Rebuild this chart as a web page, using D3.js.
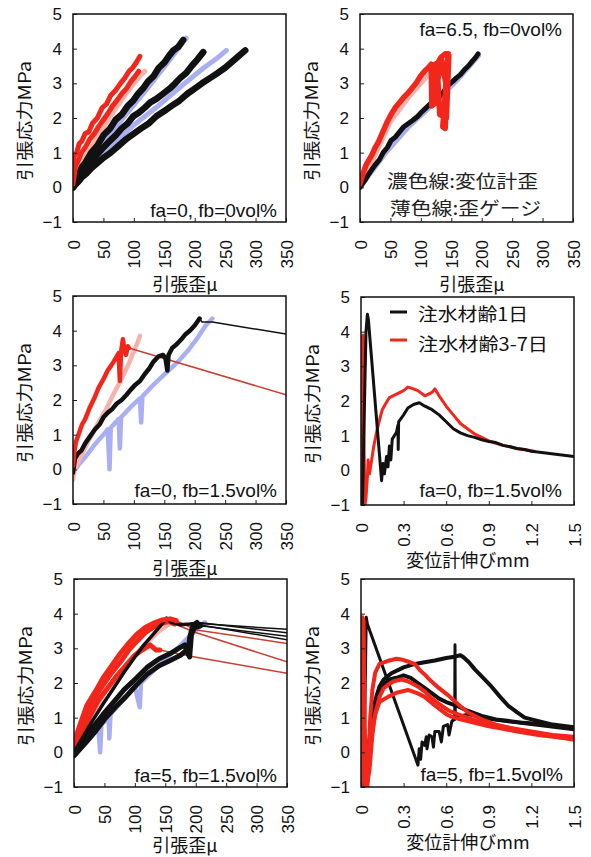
<!DOCTYPE html>
<html>
<head>
<meta charset="utf-8">
<script src="https://cdn.jsdelivr.net/npm/d3@7/dist/d3.min.js"></script>
<style>
  body { margin: 0; background: #fff; }
  svg { display: block; }
</style>
</head>
<body>
<svg id="chart" width="591" height="857"></svg>
<script>
// ---- axis ticks ----
const strainTicks = [0, 50, 100, 150, 200, 250, 300, 350];
const dispTicks = [0, 0.3, 0.6, 0.9, 1.2, 1.5];
const stressTicks = [-1, 0, 1, 2, 3, 4, 5];
const strainLabels = ["0", "50", "100", "150", "200", "250", "300", "350"];
const dispLabels = ["0", "0.3", "0.6", "0.9", "1.2", "1.5"];

// ---- panel notes ----
const notes = ["fa=0, fb=0vol%", "fa=6.5, fb=0vol%", "fa=0, fb=1.5vol%", "fa=0, fb=1.5vol%", "fa=5, fb=1.5vol%", "fa=5, fb=1.5vol%"];
const legendLabels = ["注水材齢1日", "注水材齢3-7日"];
const lineNotes = ["濃色線:変位計歪", "薄色線:歪ゲージ"];

// ---- fa=0, fb=0 : strain [μ], stress [MPa] ----
const p1Pink = [[0,0],[10,0.6],[25,1.0],[45,1.6],[65,2.15],[85,2.65],[100,3.0],[112,3.25],[118,3.35]];
const p1Blue1 = [[0,0],[40,1.1],[80,1.95],[120,2.8],[160,3.7],[186,4.3]];
const p1Blue2 = [[0,0],[30,0.6],[60,1.15],[100,1.8],[140,2.35],[180,2.95],[215,3.45],[235,3.7],[252,3.95]];
const p1Red1 = [[0,0.2],[2,0.9],[6,1.0],[10,1.25],[15,1.35],[20,1.55],[26,1.6],[32,1.85],[40,2.0],[48,2.3],[55,2.4],[62,2.65],[70,2.8],[78,3.0],[85,3.15],[92,3.35],[98,3.45],[104,3.6],[110,3.78]];
const p1Red2 = [[0,0.1],[4,0.6],[8,0.75],[14,1.0],[20,1.15],[28,1.4],[35,1.55],[42,1.75],[50,1.95],[58,2.15],[65,2.35],[72,2.5],[80,2.7],[88,2.85],[95,3.05],[102,3.2],[108,3.35]];
const p1Black1 = [[0,0],[5,0.25],[10,0.4],[15,0.6],[20,0.7],[30,1.0],[40,1.2],[50,1.5],[61,1.7],[70,1.95],[80,2.1],[90,2.35],[99,2.5],[107,2.7],[115,2.85],[123,3.05],[132,3.2],[141,3.45],[150,3.6],[158,3.8],[165,3.95],[173,4.05],[181,4.25]];
const p1Black2 = [[0,0],[10,0.3],[16,0.45],[22,0.6],[30,0.75],[40,0.95],[50,1.15],[61,1.35],[70,1.5],[80,1.7],[90,1.85],[99,2.05],[108,2.15],[118,2.3],[127,2.45],[137,2.55],[148,2.7],[159,2.85],[168,3.0],[176,3.15],[186,3.3],[195,3.5],[205,3.7],[214,3.9]];
const p1Black3 = [[0,0],[8,0.15],[15,0.3],[22,0.4],[30,0.55],[40,0.7],[50,0.85],[62,1.0],[75,1.2],[88,1.4],[100,1.55],[112,1.7],[125,1.85],[137,2.05],[150,2.2],[162,2.35],[175,2.5],[188,2.7],[200,2.85],[212,3.0],[225,3.15],[238,3.3],[250,3.45],[260,3.6],[270,3.75],[283,3.95]];

// ---- fa=6.5, fb=0 ----
const p2Blue = [[0,0],[40,0.95],[80,1.75],[120,2.4],[160,3.1],[195,3.8]];
const p2Pink = [[0,0],[20,0.75],[50,1.9],[80,2.6],[110,3.2],[130,3.5]];
const p2Black = [[0,0],[8,0.2],[15,0.4],[25,0.65],[32,0.8],[38,1.0],[45,1.15],[51,1.35],[58,1.45],[65,1.6],[72,1.75],[80,1.85],[88,1.95],[95,2.05],[100,2.15],[106,2.25],[115,2.4],[122,2.5],[130,2.6],[137,2.75],[145,2.95],[152,3.05],[158,3.15],[165,3.25],[172,3.4],[178,3.5],[185,3.65],[190,3.75],[194,3.85]];
const p2Red = [[0,0.1],[5,0.4],[10,0.65],[15,0.8],[20,0.95],[25,1.15],[30,1.3],[35,1.5],[40,1.7],[45,1.9],[51,2.1],[58,2.3],[65,2.45],[72,2.6],[79,2.72],[85,2.85],[92,3.0],[99,3.2],[106,3.35],[112,3.45],[117,3.55],[118,2.35],[122,2.4],[123,3.55],[128,3.6],[133,3.75],[140,3.85],[145,3.85],[136,1.75],[140,1.7],[146,3.8],[142,2.0],[131,2.1],[128,3.1],[134,3.7],[141,3.0],[137,1.8],[143,3.5]];

// ---- fa=0, fb=1.5 (strain) ----
const p3Pink = [[0,-0.3],[3,0],[8,0.2],[15,0.45],[25,0.8],[40,1.3],[55,1.75],[66,2.15],[75,2.45],[85,2.8],[93,3.1],[100,3.4],[106,3.65],[110,3.85]];
const p3Blue = [[0,-0.1],[10,0.15],[20,0.35],[35,0.7],[50,1.0],[57,1.15],[60,0],[62,1.2],[75,1.45],[77,0.6],[79,1.5],[95,1.8],[110,2.05],[112,1.35],[114,2.1],[130,2.4],[145,2.65],[160,2.9],[175,3.15],[190,3.45],[205,3.8],[218,4.15],[229,4.35]];
const p3Black = [[0,-0.1],[3,0.3],[8,0.45],[14,0.55],[20,0.75],[28,0.95],[36,1.15],[44,1.3],[50,1.5],[58,1.65],[65,1.75],[72,1.9],[80,2.0],[88,2.15],[95,2.3],[103,2.45],[110,2.55],[118,2.75],[125,2.9],[132,3.1],[140,3.25],[148,3.3],[152,3.2],[155,2.85],[157,3.3],[163,3.5],[170,3.6],[178,3.75],[185,3.9],[192,4.0],[200,4.15],[208,4.35]];
const p3BlackTail = [[208,4.35],[212,4.25],[229,4.25],[350,3.9]];
const p3Red = [[0,0.1],[2,0.5],[5,0.8],[10,1.05],[15,1.3],[20,1.45],[28,1.8],[35,2.05],[42,2.35],[50,2.6],[57,2.85],[63,3.0],[70,3.2],[75,3.35],[77,2.55],[79,3.4],[82,3.75],[84,3.5],[87,3.3],[90,3.55],[92,3.5]];
const p3RedTail = [[92,3.5],[350,2.15]];

// ---- fa=0, fb=1.5 (displacement mm) ----
const p4Black = [[0.01,-1],[0.025,2.0],[0.035,4.0],[0.045,4.5],[0.052,4.35],[0.145,-0.3],[0.155,0.2],[0.165,-0.1],[0.18,0.4],[0.19,0.1],[0.2,0.7],[0.21,0.3],[0.22,0.9],[0.25,1.1],[0.26,1.3],[0.262,0.6],[0.265,1.4],[0.3,1.6],[0.33,1.8],[0.37,1.9],[0.41,1.95],[0.45,1.85],[0.5,1.75],[0.55,1.6],[0.6,1.4],[0.65,1.2],[0.7,1.08],[0.75,1.0],[0.8,0.95],[0.85,0.88],[0.9,0.83],[0.95,0.8],[1.0,0.72],[1.05,0.68],[1.1,0.63],[1.15,0.6],[1.2,0.55],[1.3,0.5],[1.4,0.45],[1.5,0.4]];
const p4Red = [[0,-1],[0.005,1.0],[0.01,3.85],[0.015,3.9],[0.02,1.0],[0.028,-1],[0.035,-0.8],[0.045,-0.2],[0.05,0.3],[0.06,-0.1],[0.075,0.3],[0.09,0.7],[0.11,1.1],[0.13,1.45],[0.15,1.75],[0.17,1.9],[0.2,2.1],[0.25,2.2],[0.3,2.3],[0.33,2.4],[0.37,2.35],[0.4,2.3],[0.45,2.15],[0.5,2.25],[0.52,2.35],[0.55,2.15],[0.6,1.85],[0.65,1.6],[0.7,1.35],[0.75,1.2],[0.8,1.05],[0.85,0.95],[0.9,0.85],[0.95,0.78],[1.0,0.72],[1.05,0.68],[1.1,0.62],[1.15,0.6],[1.22,0.55]];

// ---- fa=5, fb=1.5 (strain) ----
const p5Blue = [[0,-0.1],[20,0.3],[40,0.7],[43,0],[45,0.8],[57,1.0],[58,0.4],[60,1.1],[80,1.5],[100,1.9],[108,1.3],[110,2.0],[130,2.35],[150,2.7],[170,3.0],[190,3.35],[205,3.6],[215,3.75]];
const p5Pink = [[0,0],[20,0.8],[50,1.7],[80,2.4],[110,3.0],[140,3.5],[165,3.8]];
const p5Black1 = [[0,0],[15,0.45],[30,0.9],[48,1.4],[65,1.85],[82,2.3],[100,2.75],[115,3.1],[130,3.4],[142,3.65],[152,3.87],[160,3.75],[175,3.68],[190,3.7],[200,3.72]];
const p5Black2 = [[0,0],[15,0.35],[30,0.7],[48,1.1],[65,1.45],[82,1.8],[103,2.15],[120,2.45],[140,2.7],[158,2.85],[172,3.0],[182,3.1],[187,2.85],[190,3.3],[195,3.65],[202,3.75]];
const p5Black3 = [[0,-0.1],[18,0.25],[35,0.6],[50,0.95],[68,1.3],[85,1.6],[103,1.95],[120,2.25],[140,2.5],[158,2.65],[175,2.8],[185,2.95],[190,2.75],[193,3.4],[198,3.6],[208,3.65]];
const p5BlackTail1 = [[200,3.72],[350,3.55]];
const p5BlackTail2 = [[202,3.75],[350,3.45]];
const p5BlackTail3 = [[208,3.65],[350,3.35]];
const p5BlackTail4 = [[198,3.7],[350,3.25]];
const p5Red1 = [[0,0.3],[10,0.8],[21,1.35],[35,1.75],[48,2.15],[62,2.5],[76,2.85],[90,3.15],[103,3.4],[117,3.6],[130,3.72],[145,3.82],[158,3.85],[168,3.8]];
const p5Red2 = [[0,0.15],[10,0.6],[21,1.15],[35,1.6],[48,1.95],[62,2.3],[76,2.6],[90,2.95],[103,3.2],[117,3.45],[130,3.6],[145,3.72],[155,3.78],[165,3.7]];
const p5Red3 = [[0,0.05],[12,0.5],[25,1.0],[40,1.5],[55,1.85],[70,2.2],[85,2.5],[100,2.8],[112,2.95],[125,3.1],[135,2.95],[141,2.95]];
const p5RedTail1 = [[168,3.8],[180,3.7],[201,3.53],[350,3.14]];
const p5RedTail2 = [[165,3.7],[180,3.6],[196,3.48],[350,2.61]];
const p5RedTail3 = [[141,2.95],[196,2.76],[350,2.28]];

// ---- fa=5, fb=1.5 (displacement mm) ----
const p6Red1 = [[0,-1],[0.005,2],[0.01,3.9],[0.018,3.8],[0.025,1.0],[0.035,-0.9],[0.045,-1],[0.055,0],[0.065,1.0],[0.08,1.8],[0.1,2.3],[0.13,2.55],[0.167,2.6],[0.2,2.65],[0.25,2.7],[0.284,2.68],[0.33,2.62],[0.378,2.55],[0.42,2.35],[0.46,2.2],[0.495,2.05],[0.55,1.85],[0.613,1.65],[0.68,1.4],[0.754,1.15],[0.85,0.95],[0.95,0.8],[1.035,0.72],[1.15,0.6],[1.3,0.5],[1.5,0.36]];
const p6Red2 = [[0,-0.5],[0.01,3.5],[0.02,0.5],[0.04,-1],[0.06,-0.5],[0.08,0.5],[0.1,1.1],[0.13,1.6],[0.16,1.85],[0.19,1.95],[0.23,2.05],[0.284,2.1],[0.33,2.05],[0.4,1.9],[0.45,1.75],[0.5,1.55],[0.566,1.35],[0.62,1.2],[0.68,1.1],[0.75,1.0],[0.85,0.85],[0.95,0.78],[1.05,0.7],[1.2,0.6],[1.35,0.5],[1.5,0.45]];
const p6Red3 = [[0,-1],[0.008,3.0],[0.015,0],[0.03,-1],[0.05,-0.3],[0.07,0.5],[0.1,1.1],[0.13,1.45],[0.19,1.6],[0.25,1.72],[0.331,1.8],[0.4,1.7],[0.448,1.6],[0.52,1.35],[0.6,1.1],[0.636,1.03],[0.7,0.95],[0.8,0.85],[0.9,0.75],[1.0,0.68],[1.1,0.6],[1.25,0.5],[1.4,0.43],[1.5,0.4]];
const p6Black1 = [[0.02,-1],[0.03,2.0],[0.037,3.9],[0.045,3.7],[0.401,-0.37],[0.41,0.1],[0.42,-0.2],[0.43,0.3],[0.448,0.2],[0.46,0.45],[0.465,0.1],[0.48,0.5],[0.5,0.45],[0.51,0.15],[0.52,0.6],[0.55,0.6],[0.566,0.3],[0.58,0.75],[0.61,0.8],[0.62,0.5],[0.64,0.9],[0.66,0.95],[0.662,3.1],[0.664,1.0],[0.7,1.05],[0.75,1.1],[0.8,1.05],[0.85,1.0],[0.92,0.95],[1.0,0.9],[1.1,0.85],[1.2,0.8],[1.3,0.75],[1.4,0.7],[1.5,0.65]];
const p6Black2 = [[0.03,-1],[0.05,0],[0.07,0.8],[0.1,1.5],[0.13,1.9],[0.16,2.1],[0.214,2.28],[0.3,2.45],[0.38,2.55],[0.448,2.6],[0.52,2.65],[0.6,2.72],[0.66,2.76],[0.7,2.8],[0.72,2.75],[0.76,2.6],[0.8,2.4],[0.86,2.15],[0.918,1.9],[0.98,1.6],[1.035,1.35],[1.1,1.15],[1.153,1.0],[1.25,0.9],[1.35,0.8],[1.5,0.72]];
const p6Black3 = [[0.03,-1],[0.05,-0.3],[0.07,0.5],[0.1,1.2],[0.13,1.7],[0.16,1.95],[0.2,2.1],[0.25,2.15],[0.3,2.22],[0.35,2.15],[0.4,2.0],[0.45,1.85],[0.5,1.7],[0.55,1.55],[0.6,1.45],[0.67,1.35],[0.75,1.2],[0.85,1.05],[0.95,0.95],[1.05,0.9],[1.15,0.85],[1.3,0.8],[1.4,0.75],[1.5,0.7]];

// ---- styles ----
const RED = "#f2261a", BLACK = "#111", PINK = "#f5b3ab", BLUE = "#a9aff2", TAILRED = "#c8402f";
const numFont = "'Liberation Sans', Arial, sans-serif";
const jpFont = "'Noto Sans CJK JP', 'Noto Sans', sans-serif";

const svg = d3.select("#chart");
const W = 213, H = 208;

function drawPanel(p) {
  const x = d3.scaleLinear().domain(p.xDomain).range([p.left, p.left + W]);
  const y = d3.scaleLinear().domain([-1, 5]).range([p.top + H, p.top]);
  const g = svg.append("g");
  const line = d3.line().x(d => x(d[0])).y(d => y(d[1]));

  g.append("defs").append("clipPath").attr("id", "clip" + p.id)
    .append("rect").attr("x", p.left).attr("y", p.top).attr("width", W).attr("height", H);

  const plot = g.append("g").attr("clip-path", `url(#clip${p.id})`);
  p.series.forEach(s => {
    plot.append("path")
      .attr("d", line(s.data))
      .attr("fill", "none")
      .attr("stroke", s.color)
      .attr("stroke-width", s.width)
      .attr("stroke-linejoin", "round")
      .attr("stroke-linecap", "round");
  });

  // y axis with inward ticks
  const ya = g.append("g").attr("transform", `translate(${p.left},0)`)
    .call(d3.axisLeft(y).tickValues(stressTicks).tickSize(-4).tickPadding(11)
      .tickFormat(d => d < 0 ? "\u2212" + Math.abs(d) : String(d)));
  ya.select(".domain").remove();
  ya.selectAll("text").attr("font-family", numFont).attr("font-size", 17).attr("fill", "#111");
  ya.selectAll("line").attr("stroke", "#222");

  // x axis with rotated labels
  const xa = g.append("g").attr("transform", `translate(0,${p.top + H})`)
    .call(d3.axisBottom(x).tickValues(p.xTicks).tickSize(-4)
      .tickFormat((d, i) => p.xLabels[i]));
  xa.select(".domain").remove();
  xa.selectAll("line").attr("stroke", "#222");
  xa.selectAll("text")
    .attr("x", 0).attr("y", 0).attr("dy", "0.36em")
    .attr("transform", "translate(0,18) rotate(-90)")
    .attr("text-anchor", "end")
    .attr("font-family", numFont).attr("font-size", 17).attr("fill", "#111");

  // frame
  g.append("rect").attr("x", p.left).attr("y", p.top).attr("width", W).attr("height", H)
    .attr("fill", "none").attr("stroke", "#111").attr("stroke-width", 1.5);

  // axis titles
  g.append("text")
    .attr("transform", `translate(${p.left - 48},${p.top + 107}) rotate(-90)`)
    .attr("text-anchor", "middle").attr("dy", "0.35em")
    .attr("font-family", jpFont).attr("font-size", 17).attr("fill", "#111")
    .attr("textLength", 120).attr("lengthAdjust", "spacingAndGlyphs")
    .text("引張応力MPa");
  g.append("text")
    .attr("x", p.xTitleX).attr("y", p.xTitleY)
    .attr("text-anchor", "middle").attr("dy", "0.35em")
    .attr("font-family", jpFont).attr("font-size", 18).attr("fill", "#111")
    .text(p.xTitle);

  // condition note
  g.append("text")
    .attr("x", p.noteX).attr("y", p.noteY).attr("dy", "0.35em")
    .attr("text-anchor", "end")
    .attr("font-family", numFont).attr("font-size", 19).attr("fill", "#111")
    .text(p.note);
  return { x, y, g };
}

const L1 = 73, L2 = 361, T1 = 14, T2 = 297, T3 = 579;

drawPanel({
  id: 1, left: L1, top: T1, xDomain: [0, 350], xTicks: strainTicks, xLabels: strainLabels,
  xTitle: "引張歪μ", xTitleX: 185, xTitleY: 285, note: notes[0], noteX: 277, noteY: 210,
  series: [
    { data: p1Blue1, color: BLUE, width: 5 }, { data: p1Blue2, color: BLUE, width: 5 },
    { data: p1Pink, color: PINK, width: 5 },
    { data: p1Black3, color: BLACK, width: 6.5 }, { data: p1Black2, color: BLACK, width: 6.5 },
    { data: p1Black1, color: BLACK, width: 6.5 },
    { data: p1Red2, color: RED, width: 5 }, { data: p1Red1, color: RED, width: 5 }
  ]
});

const P2 = drawPanel({
  id: 2, left: L2 - 1, top: T1, xDomain: [0, 350], xTicks: strainTicks, xLabels: strainLabels,
  xTitle: "引張歪μ", xTitleX: 472, xTitleY: 285, note: notes[1], noteX: 562, noteY: 29,
  series: [
    { data: p2Blue, color: BLUE, width: 5 }, { data: p2Pink, color: PINK, width: 5 },
    { data: p2Black, color: BLACK, width: 5 }, { data: p2Red, color: RED, width: 5.5 }
  ]
});
lineNotes.forEach((t, i) => {
  P2.g.append("text").attr("x", 387 + i * 3).attr("y", 182 + i * 27).attr("dy", "0.35em")
    .attr("font-family", jpFont).attr("font-size", 18).attr("fill", "#222")
    .attr("textLength", 151).attr("lengthAdjust", "spacingAndGlyphs").text(t);
});

drawPanel({
  id: 3, left: L1, top: T2 - 1, xDomain: [0, 350], xTicks: strainTicks, xLabels: strainLabels,
  xTitle: "引張歪μ", xTitleX: 185, xTitleY: 569, note: notes[2], noteX: 277, noteY: 490,
  series: [
    { data: p3Blue, color: BLUE, width: 4.5 }, { data: p3Pink, color: PINK, width: 4.5 },
    { data: p3BlackTail, color: BLACK, width: 1.5 }, { data: p3RedTail, color: TAILRED, width: 1.5 },
    { data: p3Black, color: BLACK, width: 4.5 }, { data: p3Red, color: RED, width: 4.5 }
  ]
});

const P4 = drawPanel({
  id: 4, left: L2, top: T2, xDomain: [0, 1.5], xTicks: dispTicks, xLabels: dispLabels,
  xTitle: "変位計伸びmm", xTitleX: 468, xTitleY: 561, note: notes[3], noteX: 562, noteY: 490,
  series: [
    { data: p4Red, color: RED, width: 3 }, { data: p4Black, color: BLACK, width: 3 }
  ]
});
[BLACK, RED].forEach((c, i) => {
  P4.g.append("line").attr("x1", 390).attr("x2", 407).attr("y1", 312 + i * 28).attr("y2", 312 + i * 28)
    .attr("stroke", c).attr("stroke-width", 3);
  P4.g.append("text").attr("x", 418).attr("y", 315 + i * 30).attr("dy", "0.35em")
    .attr("font-family", jpFont).attr("font-size", 18).attr("fill", "#111")
    .attr("textLength", i === 0 ? 110 : 130).attr("lengthAdjust", "spacingAndGlyphs")
    .text(legendLabels[i]);
});

drawPanel({
  id: 5, left: L1 + 1, top: T3, xDomain: [0, 350], xTicks: strainTicks, xLabels: strainLabels,
  xTitle: "引張歪μ", xTitleX: 185, xTitleY: 846, note: notes[4], noteX: 277, noteY: 775,
  series: [
    { data: p5Blue, color: BLUE, width: 4.5 }, { data: p5Pink, color: PINK, width: 4.5 },
    { data: p5BlackTail1, color: BLACK, width: 1.5 }, { data: p5BlackTail2, color: BLACK, width: 1.5 },
    { data: p5BlackTail3, color: BLACK, width: 1.5 }, { data: p5BlackTail4, color: BLACK, width: 1.5 },
    { data: p5RedTail1, color: TAILRED, width: 1.5 }, { data: p5RedTail2, color: TAILRED, width: 1.5 },
    { data: p5RedTail3, color: TAILRED, width: 1.5 },
    { data: p5Black3, color: BLACK, width: 5 }, { data: p5Black2, color: BLACK, width: 5 },
    { data: p5Red3, color: RED, width: 5 }, { data: p5Red2, color: RED, width: 5 },
    { data: p5Black1, color: BLACK, width: 3.5 }, { data: p5Red1, color: RED, width: 5 }
  ]
});

drawPanel({
  id: 6, left: L2, top: T3, xDomain: [0, 1.5], xTicks: dispTicks, xLabels: dispLabels,
  xTitle: "変位計伸びmm", xTitleX: 468, xTitleY: 843, note: notes[5], noteX: 563, noteY: 774,
  series: [
    { data: p6Black1, color: BLACK, width: 3 }, { data: p6Black3, color: BLACK, width: 4 },
    { data: p6Black2, color: BLACK, width: 4 },
    { data: p6Red3, color: RED, width: 4 }, { data: p6Red2, color: RED, width: 4 },
    { data: p6Red1, color: RED, width: 4 }
  ]
});
</script>
</body>
</html>
